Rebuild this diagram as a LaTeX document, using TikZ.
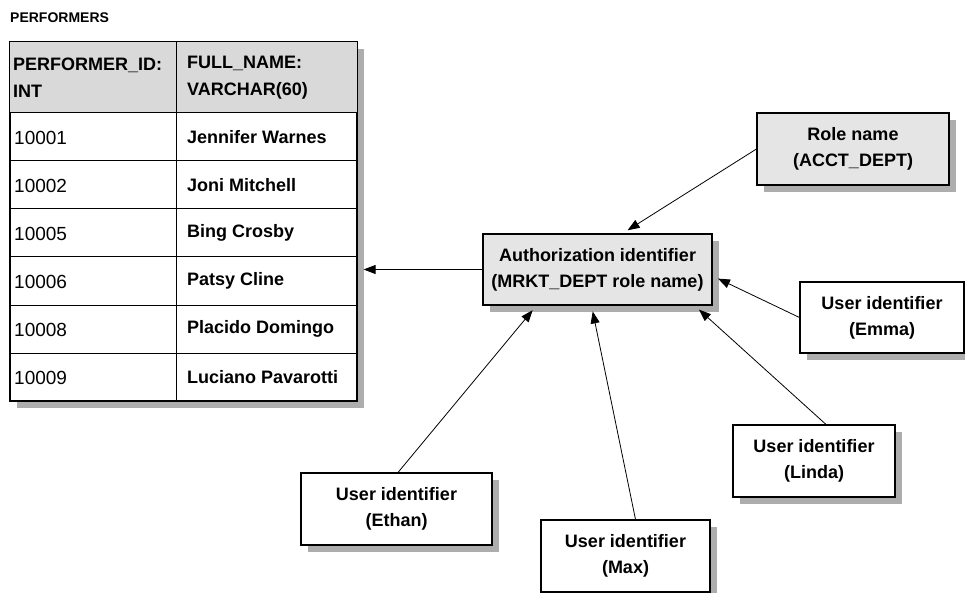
\documentclass[tikz,border=0pt]{standalone}
\usepackage{fontspec}
\setmainfont{Liberation Sans}
\usetikzlibrary{arrows.meta,shadows}

\definecolor{headgray}{gray}{0.85}
\definecolor{boxgray}{gray}{0.90}
\definecolor{shadowgray}{gray}{0.68}

\tikzset{
  shadowed/.style={drop shadow={shadow xshift=7pt, shadow yshift=-7pt, fill=shadowgray, opacity=1}},
  idbox/.style={draw, line width=1.1pt, fill=white, shadowed, inner sep=0pt, align=center,
    font=\fontsize{18}{26}\selectfont\bfseries},
  rolebox/.style={idbox, fill=boxgray},
  cell/.style={anchor=west, inner sep=0pt, font=\fontsize{19}{27}\selectfont},
  grant/.style={line width=0.8pt, -{Triangle[length=12pt,width=9pt]}, shorten >=6pt}
}

\begin{document}
\begin{tikzpicture}[x=1pt, y=-1pt]
  \useasboundingbox (0,0) rectangle (965,593);

  % the table
  \node[anchor=west, inner sep=0pt, font=\fontsize{14}{18}\selectfont\bfseries] (title) at (10,18) {PERFORMERS};
  \node[draw, line width=1.2pt, fill=white, shadowed, minimum width=347pt, minimum height=359pt, inner sep=0pt]
    (tbl) at (183.5,221.5) {};
  \fill[headgray] (10,42) rectangle (357,113);
  \foreach \y in {113,161,209,257,305,353}
    \draw[line width=1pt] (10,\y) -- (357,\y);
  \draw[line width=1pt] (176,42) -- (176,401);
  \draw[line width=1.2pt] (tbl.north west) rectangle (tbl.south east);

  \node[cell, font=\fontsize{18}{27}\selectfont\bfseries, align=left] (colid) at (13,77.5) {PERFORMER\_ID:\\INT};
  \node[cell, font=\fontsize{18}{27}\selectfont\bfseries, align=left] (colname) at (187,77.5) {FULL\_NAME:\\VARCHAR(60)};
  \foreach \id/\nm [count=\r] in {10001/Jennifer Warnes, 10002/Joni Mitchell, 10005/Bing Crosby,
      10006/Patsy Cline, 10008/Placido Domingo, 10009/Luciano Pavarotti} {
    \node[cell] (id\r) at (14,90+48*\r) {\id};
    \node[cell, font=\fontsize{18}{27}\selectfont\bfseries] (nm\r) at (187,89+48*\r) {\nm};
  }

  % identifiers
  \node[rolebox, minimum width=229pt, minimum height=71pt] (auth) at (597.5,269.5)
    {Authorization identifier\\(MRKT\_DEPT role name)};
  \node[rolebox, minimum width=192pt, minimum height=72pt] (role) at (853,149)
    {Role name\\(ACCT\_DEPT)};
  \node[idbox, minimum width=164pt, minimum height=71pt] (emma) at (882,317.5)
    {User identifier\\(Emma)};
  \node[idbox, minimum width=162pt, minimum height=72pt] (linda) at (814,461)
    {User identifier\\(Linda)};
  \node[idbox, minimum width=191pt, minimum height=72pt] (ethan) at (396.5,509)
    {User identifier\\(Ethan)};
  \node[idbox, minimum width=169pt, minimum height=72pt] (max) at (625.5,556)
    {User identifier\\(Max)};

  % connectors
  \draw[grant] (auth.west) -- (auth.west -| tbl.east);
  \draw[grant] (role.west) -- ([xshift=25pt]auth.north);
  \draw[grant] (emma.west) -- ([yshift=-6.5pt]auth.east);
  \draw[grant] ([xshift=12pt]linda.north) -- ([xshift=97pt]auth.south);
  \draw[grant] ([xshift=10pt]max.north) -- ([xshift=-6pt]auth.south);
  \draw[grant] ([xshift=1.5pt]ethan.north) -- ([xshift=-61pt]auth.south);
\end{tikzpicture}
\end{document}
